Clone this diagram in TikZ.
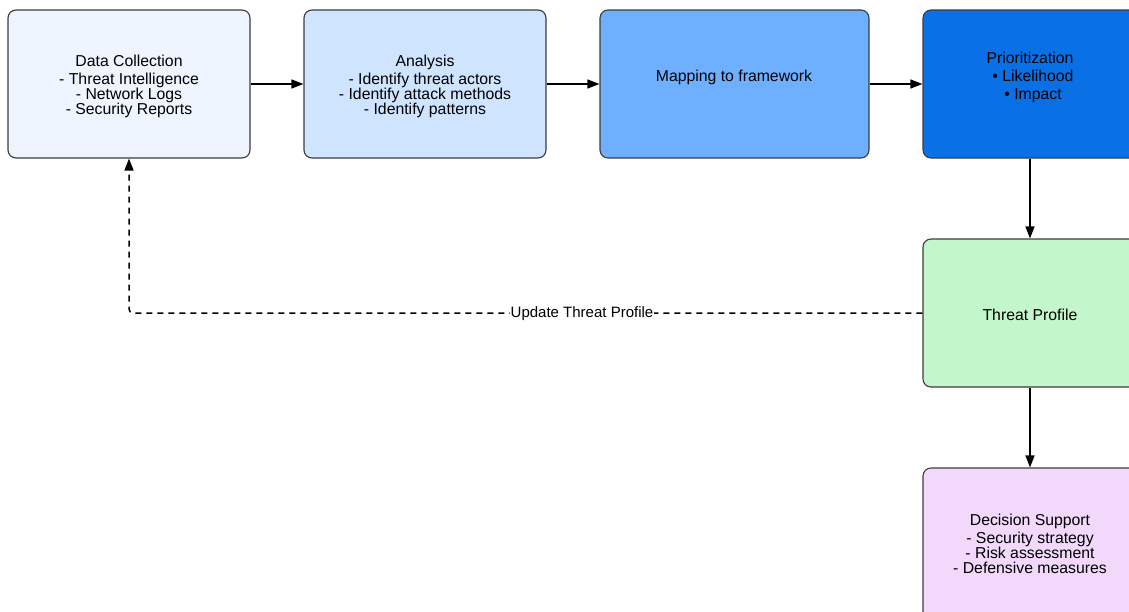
\documentclass[tikz,border=0pt]{standalone}
\usepackage{fontspec}
\setmainfont{Liberation Sans}
\usetikzlibrary{arrows.meta}

\definecolor{edgegray}{HTML}{3C3C3C}
\definecolor{fillcollect}{HTML}{EEF5FF}
\definecolor{fillanalysis}{HTML}{CFE4FF}
\definecolor{fillmapping}{HTML}{6EB0FF}
\definecolor{fillprior}{HTML}{0A70E6}
\definecolor{fillprofile}{HTML}{C3F6CB}
\definecolor{filldecision}{HTML}{F2D9FC}

\tikzset{
  box/.style={draw=edgegray, line width=1.1pt, rounded corners=8pt, inner sep=0pt,
    rectangle, minimum height=148pt},
  boxtext/.style={align=center, inner sep=0pt, font=\fontsize{15.8}{15}\selectfont},
  flow/.style={draw=black, line width=1.3pt, -{Triangle[length=12pt,width=9pt]}},
  feedback/.style={draw=black, line width=1.5pt, dash pattern=on 6pt off 5pt,
    rounded corners=4pt, -{Triangle[length=12pt,width=9pt]}},
  tag/.style={fill=white, inner sep=1pt, font=\fontsize{15}{15}\selectfont}
}

\begin{document}
\begin{tikzpicture}[x=1pt, y=-1pt]
  \useasboundingbox (0,0) rectangle (1129,611);
  \clip (0,0) rectangle (1129,611);

  % process boxes
  \node[box, fill=fillcollect,  minimum width=242pt] (collect)  at (129,84)   {};
  \node[box, fill=fillanalysis, minimum width=242pt] (analysis) at (425,84)   {};
  \node[box, fill=fillmapping,  minimum width=269pt] (mapping)  at (734.5,84) {};
  \node[box, fill=fillprior,    minimum width=215pt] (prior)    at (1030.5,84)  {};
  \node[box, fill=fillprofile,  minimum width=215pt] (profile)  at (1030.5,313) {};
  \node[box, fill=filldecision, minimum width=215pt, minimum height=152pt]
    (decision) at (1030.5,544) {};

  % box texts
  \node[boxtext] (collecttxt) at (129,86)
    {Data Collection\\[3pt]- Threat Intelligence\\- Network Logs\\- Security Reports};
  \node[boxtext] (analysistxt) at (425,86)
    {Analysis\\[3pt]- Identify threat actors\\- Identify attack methods\\- Identify patterns};
  \node[boxtext] (mappingtxt) at (734,77) {Mapping to framework};
  \node[boxtext] (priortxt) at (1030,77)
    {Prioritization\\[3pt]\hspace*{6pt}• Likelihood\\[3pt]\hspace*{6pt}• Impact};
  \node[boxtext] (profiletxt) at (1030,314.5) {Threat Profile};
  \node[boxtext] (decisiontxt) at (1030,543.5)
    {Decision Support\\[3pt]- Security strategy\\- Risk assessment\\- Defensive measures};

  % main flow
  \draw[flow] (collect.east) -- (analysis.west);
  \draw[flow] (analysis.east) -- (mapping.west);
  \draw[flow] (mapping.east) -- (prior.west);
  \draw[flow] (prior.south -| 1030,0) -- (profile.north -| 1030,0);
  \draw[flow] (profile.south -| 1030,0) -- (decision.north -| 1030,0);

  % feedback loop
  \coordinate (bend) at (collect.south |- profile.west);
  \draw[feedback] (profile.west) -- (bend) -- (collect.south);
  \node[tag] (updatetag) at (582,313.5) {Update Threat Profile};
\end{tikzpicture}
\end{document}
